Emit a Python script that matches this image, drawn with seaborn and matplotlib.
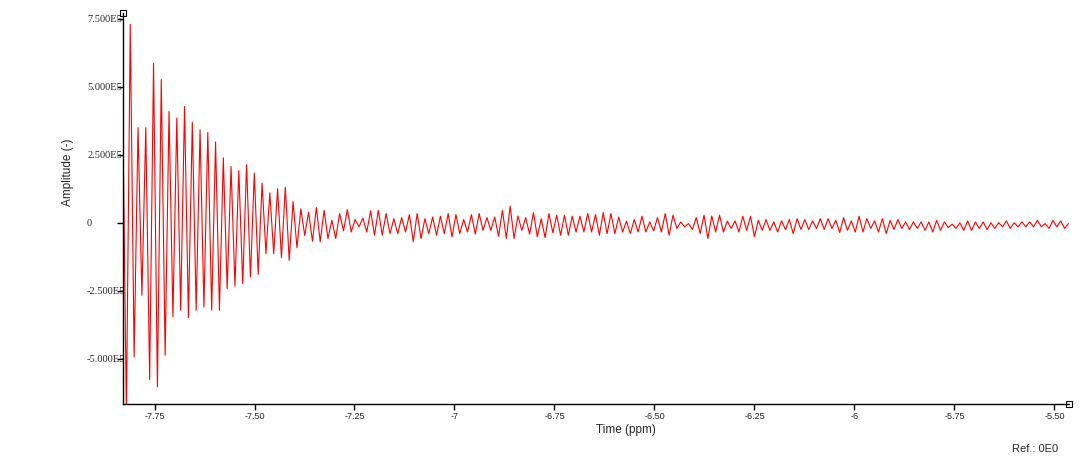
#!/usr/bin/env python3
"""
FID amplitude trace vs time (ppm), red line on white.
"""

import numpy as np
import pandas as pd
import matplotlib
matplotlib.use("Agg")
import matplotlib.pyplot as plt
import seaborn as sns

# time axis of the trace (uniform sampling between first and last point)
t_first = -7.83
t_last = -5.465

# amplitudes in units of 1E5
start_value = 4.8

# local maxima, in order
peaks = [
    7.3, 3.5, 3.5, 5.87, 5.27, 4.1, 3.85, 4.28, 3.7, 3.42, 3.33, 2.97,
    2.39, 2.07, 1.92, 2.13, 1.83, 1.46, 1.1, 1.25, 1.31, 0.78, 0.51, 0.39,
    0.56, 0.46, 0.09, 0.34, 0.48, 0.12, 0.17, 0.44, 0.46, 0.34, 0.15, 0.19,
    0.3, 0.34, 0.15, 0.21, 0.24, 0.34, 0.3, 0.12, 0.3, 0.34, 0.19, 0.21,
    0.46, 0.61, 0.25, 0.19,
    0.37, 0.15, 0.34, 0.28, 0.28, 0.24, 0.24, 0.34, 0.3, 0.37, 0.34, 0.21,
    0.06, 0.12, 0.24, 0.03, 0.19, 0.34, 0.28, 0.03, -0.03, 0.19, 0.28, 0.25,
    0.28, 0.06, 0.07, 0.24, 0.24, 0.09, 0.12,
    0.03, 0.07, 0.12, 0.15, 0.12, 0.07, 0.15, 0.15, 0.09, 0.19, 0.07, 0.24,
    0.15, 0.07, 0.15, 0.09, 0.12, 0.03, 0.03, 0.03, 0.03, 0.09, 0.03, -0.05,
    0.0, 0.07, 0.03, 0.03, 0.0, 0.0, 0.07, 0.0, 0.03, 0.03, 0.09, -0.03,
    0.09, 0.07, -0.03,
]

# local minima, each one comes just before the matching peak
troughs = [
    -7.0, -4.94, -2.67, -5.77, -6.04, -4.88, -3.47, -3.22, -3.49, -3.22, -3.1, -3.22,
    -3.22, -2.43, -2.33, -2.24, -2.0, -1.9, -1.14, -1.14, -1.29, -1.38, -0.92, -0.47,
    -0.68, -0.7, -0.58, -0.58, -0.3, -0.34, -0.15, -0.34, -0.46, -0.46, -0.4, -0.4,
    -0.34, -0.7, -0.58, -0.4, -0.46, -0.4, -0.52, -0.4, -0.34, -0.42, -0.28, -0.28,
    -0.5, -0.58, -0.58, -0.28,
    -0.42, -0.52, -0.55, -0.37, -0.46, -0.46, -0.34, -0.34, -0.34, -0.46, -0.4, -0.4,
    -0.34, -0.4, -0.34, -0.34, -0.3, -0.34, -0.46, -0.21, -0.15, -0.25, -0.4, -0.58,
    -0.34, -0.34, -0.21, -0.34, -0.28, -0.52, -0.28,
    -0.28, -0.34, -0.25, -0.4, -0.25, -0.25, -0.21, -0.25, -0.21, -0.36, -0.28, -0.34,
    -0.34, -0.21, -0.34, -0.4, -0.25, -0.21, -0.25, -0.21, -0.28, -0.34, -0.28, -0.18,
    -0.21, -0.28, -0.28, -0.21, -0.25, -0.21, -0.15, -0.21, -0.15, -0.15, -0.15, -0.15,
    -0.21, -0.15, -0.21,
]

y_ticks = [7.5e5, 5.0e5, 2.5e5, 0.0, -2.5e5, -5.0e5]
y_tick_labels = ["7.500E5", "5.000E5", "2.500E5", "0", "-2.500E5", "-5.000E5"]
x_ticks = [-7.75, -7.5, -7.25, -7.0, -6.75, -6.5, -6.25, -6.0, -5.75, -5.5]
x_tick_labels = ["-7.75", "-7.50", "-7.25", "-7", "-6.75", "-6.50", "-6.25", "-6", "-5.75", "-5.50"]

# build the trace: start, then trough/peak pairs
amp = [start_value]
for lo, hi in zip(troughs, peaks):
    amp.extend([lo, hi])
amp = np.array(amp) * 1e5
t = np.linspace(t_first, t_last, len(amp))
df = pd.DataFrame({"time": t, "amplitude": amp})

sns.set_style("white")
plt.rcParams["font.family"] = ["Liberation Sans", "DejaVu Sans"]

fig = plt.figure(figsize=(10.9, 4.57), dpi=100)
ax = fig.add_axes([0.1124, 0.1160, 0.8683, 0.8556])

sns.lineplot(data=df, x="time", y="amplitude", color="#ff0000", linewidth=0.8,
             sort=False, estimator=None, ax=ax)

ax.set_xlim(-7.83, -5.4637)
ax.set_ylim(-6.67e5, 7.72e5)

for side in ["top", "right"]:
    ax.spines[side].set_visible(False)
for side in ["left", "bottom"]:
    ax.spines[side].set_color("black")
    ax.spines[side].set_linewidth(1.0)

ax.set_xticks(x_ticks)
ax.set_xticklabels(x_tick_labels, fontsize=6.5)
ax.set_yticks(y_ticks)
ax.set_yticklabels(y_tick_labels, fontsize=7.5, family=["Liberation Serif", "DejaVu Serif"])
for lab in ax.get_yticklabels():
    lab.set_horizontalalignment("left")
ax.tick_params(axis="y", direction="out", length=4, width=1, color="black", pad=21.5, left=True)
ax.tick_params(axis="x", direction="out", length=4, width=1, color="black", pad=1.5, bottom=True)
ax.set_xlabel("")
ax.set_ylabel("")

# small open squares at the axis ends
ax.plot([0], [1], marker="s", ms=4.2, mfc="white", mec="black", mew=0.8,
        transform=ax.transAxes, clip_on=False)
ax.plot([1], [0], marker="s", ms=4.2, mfc="white", mec="black", mew=0.8,
        transform=ax.transAxes, clip_on=False)

fig.text(596 / 1090, 1 - 430 / 457, "Time (ppm)", ha="left", va="center", fontsize=8.5)
fig.text(68 / 1090, 1 - 172 / 457, "Amplitude (-)", rotation=90, ha="center", va="center", fontsize=8.5)
fig.text(1058 / 1090, 1 - 449 / 457, "Ref.: 0E0", ha="right", va="center", fontsize=8)

fig.savefig("out.png", dpi=100)
